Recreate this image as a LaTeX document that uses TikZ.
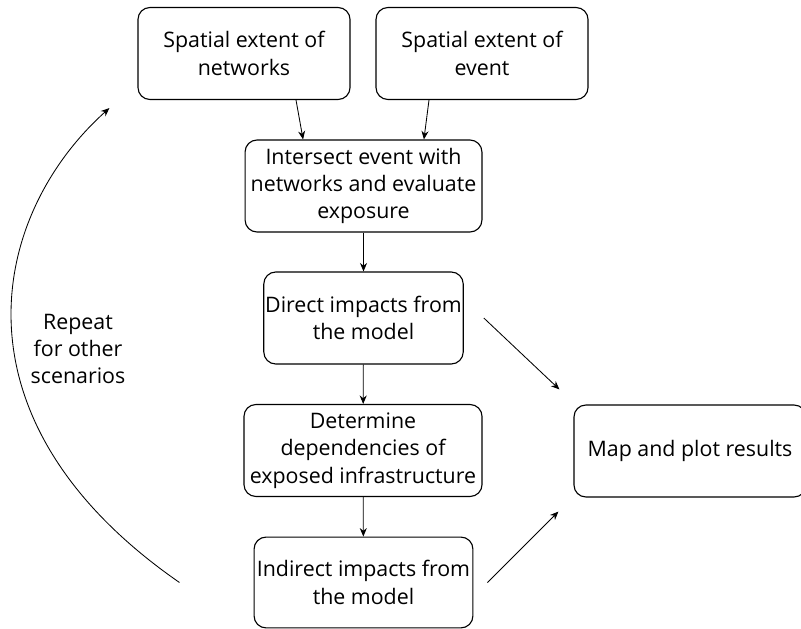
\documentclass[tikz,border=0pt]{standalone}
\usepackage{fontspec}
\setmainfont{Open Sans}
\usepackage{tikz}
\usetikzlibrary{arrows.meta}

\begin{document}
\begin{tikzpicture}[x=0.025cm, y=-0.025cm, >={Stealth[length=6pt,width=5pt]},
    font=\fontsize{15.2}{19.5}\selectfont,
    procbox/.style={draw, line width=0.8pt, rounded corners=0.3cm, align=center,
      inner sep=1pt, minimum height=2.3cm},
    flow/.style={->, line width=0.6pt}]
  \useasboundingbox (0,0) rectangle (801,629);
  \clip (0,0) rectangle (801,629);

  % Inputs
  \node[procbox, minimum width=5.3cm] (netext) at (244,53.5) {Spatial extent of\\networks};
  \node[procbox, minimum width=5.3cm] (evext) at (482,53.5) {Spatial extent of\\event};

  % Main chain
  \node[procbox, minimum width=5.92cm] (intersect) at (363.5,186) {Intersect event with\\networks and evaluate\\exposure};
  \node[procbox, minimum width=4.97cm] (direct) at (363.5,318) {Direct impacts from\\the model};
  \node[procbox, minimum width=5.95cm] (depend) at (363,450.5) {Determine\\dependencies of\\exposed infrastructure};
  \node[procbox, minimum width=5.47cm, minimum height=2.27cm] (indirect) at (363.5,582.5) {Indirect impacts from\\the model};

  % Output
  \node[procbox, minimum width=5.8cm] (results) at (690,451) {Map and plot results};

  % Connectors
  \draw[flow] ([xshift=1.3cm]netext.south) -- ([xshift=-1.51cm]intersect.north);
  \draw[flow] ([xshift=-1.325cm]evext.south) -- ([xshift=1.51cm]intersect.north);
  \draw[flow] (intersect) -- (direct);
  \draw[flow] (direct) -- (depend);
  \draw[flow] (depend) -- (indirect);
  \draw[flow] ([xshift=0.5cm]direct.east) -- ([shift={(-0.35cm,0.375cm)}]results.north west);
  \draw[flow] ([xshift=0.35cm]indirect.east) -- ([shift={(-0.375cm,-0.35cm)}]results.south west);

  % Loop back
  \draw[flow] ([xshift=-1.85cm]indirect.west) .. controls (-55,420) and (-10,215) .. ([shift={(-0.7cm,-0.2cm)}]netext.south west);
  \node[align=center] (repeat) at (78,349) {Repeat\\for other\\scenarios};
\end{tikzpicture}
\end{document}
